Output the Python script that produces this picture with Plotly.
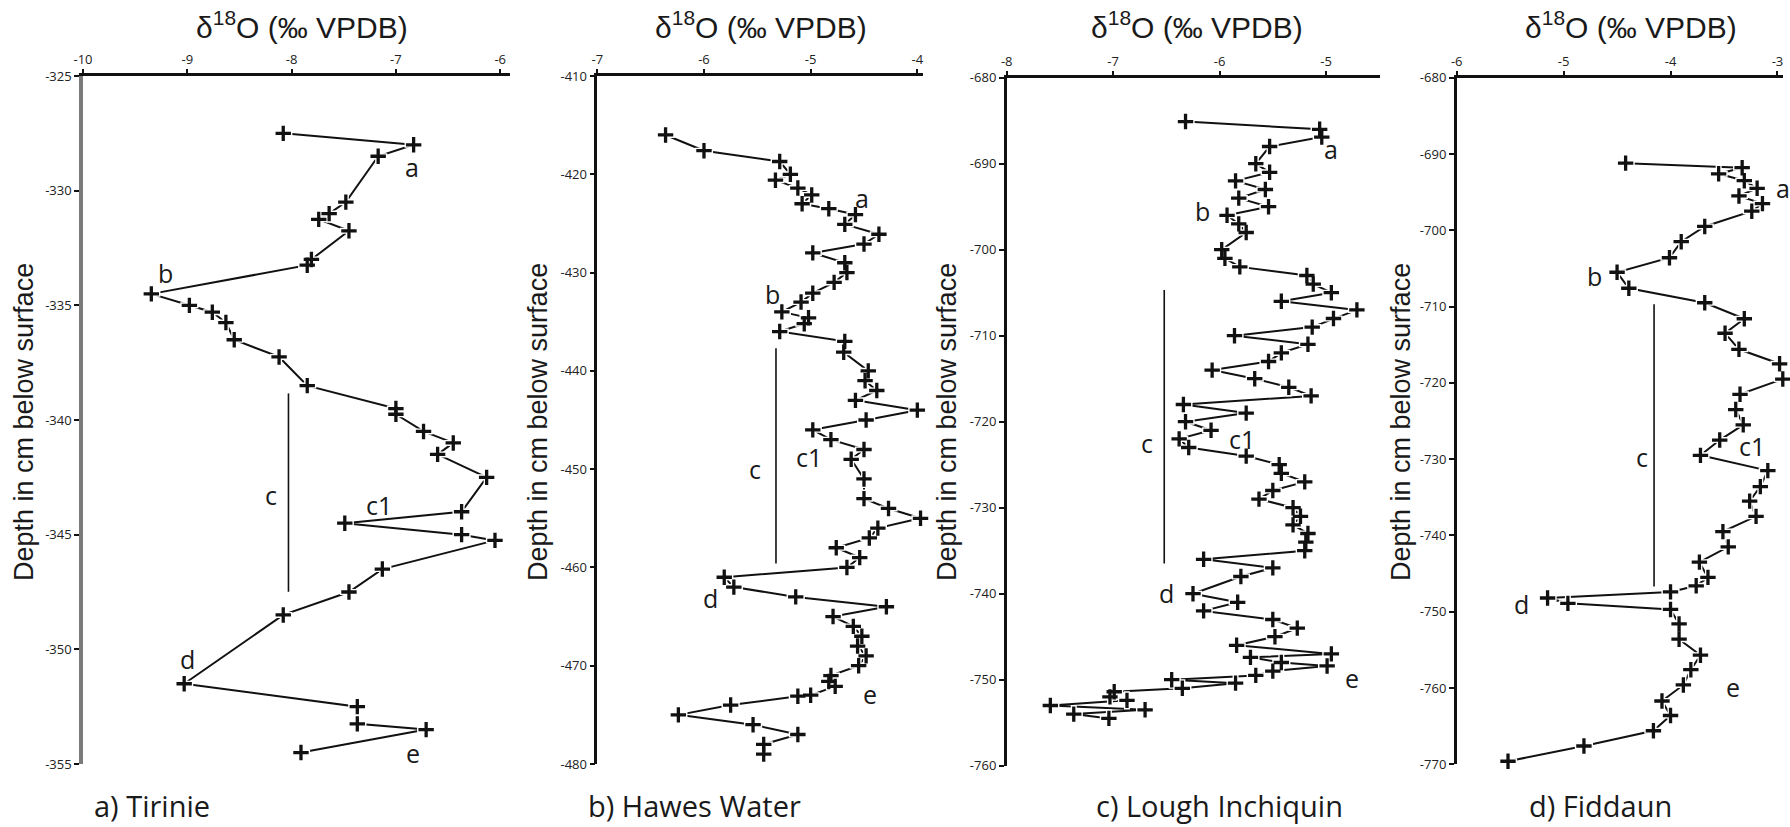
import plotly.graph_objects as go

# ---------------- data ----------------
# a) Tirinie
X_A = [-8.08, -6.83, -7.17, -7.48, -7.64, -7.74, -7.45, -7.81, -7.85, -9.345, -8.98, -8.76,
       -8.63, -8.55, -8.12, -7.85, -7.0, -7.0, -6.735, -6.45, -6.60, -6.13, -6.37, -7.49,
       -6.37, -6.05, -7.13, -7.45, -8.08, -9.03, -7.37, -7.37, -6.71, -7.91]
Y_A = [-327.5, -328.0, -328.5, -330.5, -331.0, -331.25, -331.75, -333.0, -333.25, -334.5,
       -335.0, -335.3, -335.75, -336.5, -337.25, -338.5, -339.5, -339.75, -340.5, -341.0,
       -341.5, -342.5, -344.0, -344.5, -345.0, -345.25, -346.5, -347.5, -348.5, -351.5,
       -352.5, -353.25, -353.5, -354.5]
# b) Hawes Water
X_B = [-6.36, -6.0, -5.29, -5.19, -5.33, -5.12, -4.99, -5.08, -4.83, -4.58, -4.68, -4.36,
       -4.5, -4.98, -4.68, -4.66, -4.78, -4.98, -5.09, -5.27, -5.02, -5.06, -5.29, -4.68,
       -4.69, -4.46, -4.49, -4.38, -4.58, -4.0, -4.48, -4.98, -4.81, -4.5, -4.62, -4.5,
       -4.5, -4.27, -3.97, -4.37, -4.45, -4.76, -4.54, -4.66, -5.81, -5.72, -5.14, -4.29,
       -4.79, -4.6, -4.52, -4.56, -4.48, -4.55, -4.81, -4.83, -4.77, -5.0, -5.12, -5.75,
       -6.24, -5.54, -5.12, -5.44, -5.44]
Y_B = [-416, -417.6, -418.7, -420, -420.6, -421.4, -422.1, -423, -423.5, -424.1, -425.1,
       -426.1, -427.1, -428, -429, -430, -431, -432.1, -433, -434, -434.6, -435.2, -436,
       -437, -438.1, -440, -441, -442, -443, -444, -445, -446, -447, -448, -449, -451,
       -453, -454, -455, -456, -457, -458, -459, -460, -461, -462, -463, -464, -465, -466,
       -467, -468, -469, -470, -471, -471.6, -472.1, -473, -473.1, -474, -475, -476, -477,
       -478, -479]
# c) Lough Inchiquin
X_C = [-6.32, -5.06, -5.04, -5.53, -5.66, -5.53, -5.85, -5.57, -5.82, -5.54,
       -5.93, -5.82, -5.75, -5.98, -5.95, -5.81, -5.18, -5.12, -4.95, -5.42,
       -4.71, -4.93, -5.13, -5.86, -5.17, -5.42, -5.54, -6.07, -5.67, -5.35,
       -5.14, -6.34, -5.75, -6.32, -6.08, -6.38, -6.29, -5.75, -5.44, -5.42,
       -5.2, -5.5, -5.63, -5.31, -5.24, -5.31, -5.17, -5.19, -5.2, -6.15,
       -5.5, -5.8, -6.25, -5.83, -6.15, -5.5, -5.27, -5.48, -5.84, -4.95,
       -5.71, -5.42, -4.99, -5.5, -5.66, -6.45, -5.85, -6.35, -6.99, -7.03,
       -6.87, -7.59, -6.70, -7.37, -7.04]
Y_C = [-685.1, -686.0, -686.9, -688, -690, -691, -692, -693, -694, -695,
       -696, -697, -698, -700, -701, -702, -703, -704, -705, -706,
       -707, -708, -709, -710, -711, -712, -713, -714, -715, -716,
       -717, -718, -719, -720, -721, -722, -723, -724, -725, -726,
       -727, -728, -729, -730, -731, -732, -733, -734, -735, -736,
       -737, -738, -740, -741, -742, -743, -744, -745, -746, -747,
       -747.4, -748, -748.4, -749, -749.5, -750, -750.4, -751, -751.4, -752,
       -752.4, -753, -753.5, -754, -754.5]
# d) Fiddaun
X_D = [-4.42, -3.33, -3.55, -3.31, -3.19, -3.36, -3.14, -3.24, -3.68, -3.9,
       -4.01, -4.5, -4.39, -3.68, -3.31, -3.49, -3.36, -2.98, -2.95, -3.35,
       -3.39, -3.32, -3.54, -3.72, -3.09, -3.16, -3.26, -3.2, -3.51, -3.46,
       -3.73, -3.65, -3.76, -4.0, -5.15, -4.96, -4.0, -3.92, -3.92, -3.72,
       -3.81, -3.88, -4.08, -4.0, -4.16, -4.81, -5.52]
Y_D = [-691.2, -691.8, -692.6, -693.5, -694.5, -695.5, -696.5, -697.5, -699.5, -701.5,
       -703.6, -705.5, -707.6, -709.5, -711.6, -713.5, -715.6, -717.5, -719.5, -721.5,
       -723.5, -725.5, -727.5, -729.5, -731.5, -733.6, -735.5, -737.5, -739.5, -741.5,
       -743.5, -745.5, -746.6, -747.4, -748.2, -748.9, -749.7, -751.6, -753.6, -755.7,
       -757.6, -759.6, -761.7, -763.6, -765.6, -767.6, -769.6]

# zone "c" bars (x, [top, bottom])
CBAR_A = (-8.03, [-338.84, -347.49])
CBAR_B = (-5.325, [-437.7, -459.6])
CBAR_C = (-6.52, [-704.7, -736.5])
CBAR_D = (-4.154, [-709.7, -746.7])

# zone labels
LABEL_TEXT = ["a", "b", "c", "c1", "d", "e"]
LAB_A = [(-6.85, -328.95), (-9.21, -333.6), (-8.2, -343.27), (-7.16, -343.7), (-9.0, -350.4), (-6.84, -354.5)]
LAB_B = [(-4.52, -422.45), (-5.36, -432.2), (-5.52, -449.97), (-5.02, -448.8), (-5.94, -463.1), (-4.44, -472.87)]
LAB_C = [(-4.95, -688.3), (-6.16, -695.5), (-6.68, -722.5), (-5.79, -722.05), (-6.5, -739.96), (-4.76, -749.84)]
LAB_D = [(-2.95, -694.5), (-4.715, -706.0), (-4.27, -729.74), (-3.24, -728.25), (-5.39, -748.98), (-3.42, -759.9)]

# axis ticks
XT_A = [-10, -9, -8, -7, -6]
YT_A = [-325, -330, -335, -340, -345, -350, -355]
XT_B = [-7, -6, -5, -4]
YT_B = [-410, -420, -430, -440, -450, -460, -470, -480]
XT_C = [-8, -7, -6, -5]
YT_C = [-680, -690, -700, -710, -720, -730, -740, -750, -760]
XT_D = [-6, -5, -4, -3]
YT_D = [-680, -690, -700, -710, -720, -730, -740, -750, -760, -770]

TITLES = ["a) Tirinie", "b) Hawes Water", "c) Lough Inchiquin", "d) Fiddaun"]

# ---------------- layout geometry (pixels) ----------------
W, H = 1790, 827
panels = [
    dict(x=X_A, y=Y_A, cbar=CBAR_A, lab=LAB_A, xt=XT_A, yt=YT_A,
         px=(83, 510), py=(76, 764), xr=[-10, -5.906], yr=[-355, -325],
         xtitle=302, ytitle=24, ttl=152, ylc='#7a7a7a', ylw=3.5),
    dict(x=X_B, y=Y_B, cbar=CBAR_B, lab=LAB_B, xt=XT_B, yt=YT_B,
         px=(597.3, 923.3), py=(76, 764), xr=[-7, -3.944], yr=[-480, -410],
         xtitle=761, ytitle=538, ttl=694, ylc='#111', ylw=2.5),
    dict(x=X_C, y=Y_C, cbar=CBAR_C, lab=LAB_C, xt=XT_C, yt=YT_C,
         px=(1006.7, 1380), py=(77.7, 765.7), xr=[-8, -4.493], yr=[-760, -680],
         xtitle=1197, ytitle=947, ttl=1219, ylc='#111', ylw=2.5),
    dict(x=X_D, y=Y_D, cbar=CBAR_D, lab=LAB_D, xt=XT_D, yt=YT_D,
         px=(1456.7, 1783), py=(77.7, 764.3), xr=[-6, -2.948], yr=[-770, -680],
         xtitle=1631, ytitle=1401, ttl=1600, ylc='#111', ylw=2.5),
]

fig = go.Figure()
annotations = []
layout = {}
tickfont = dict(family="Open Sans", size=13, color="#222")
labfont = dict(family="Open Sans", size=25, color="#1a1a1a")

for i, p in enumerate(panels):
    n = "" if i == 0 else str(i + 1)
    xa, ya = "x" + n, "y" + n
    # connecting line
    fig.add_trace(go.Scatter(
        x=p["x"], y=p["y"], xaxis=xa, yaxis=ya, mode="lines",
        line=dict(color="#111", width=2),
        cliponaxis=False, showlegend=False, hoverinfo="skip"))
    # white halo behind markers (as in the original Excel markers)
    fig.add_trace(go.Scatter(
        x=p["x"], y=p["y"], xaxis=xa, yaxis=ya, mode="markers",
        marker=dict(symbol="cross-thin", size=13, line=dict(color="white", width=6)),
        cliponaxis=False, showlegend=False, hoverinfo="skip"))
    # plus markers
    fig.add_trace(go.Scatter(
        x=p["x"], y=p["y"], xaxis=xa, yaxis=ya, mode="markers",
        marker=dict(symbol="cross-thin", size=11, line=dict(color="#111", width=3.3)),
        cliponaxis=False, showlegend=False, hoverinfo="x+y"))
    cx, cy = p["cbar"]
    fig.add_trace(go.Scatter(
        x=[cx, cx], y=cy, xaxis=xa, yaxis=ya, mode="lines",
        line=dict(color="#111", width=1.6), showlegend=False, hoverinfo="skip"))

    layout["xaxis" + n] = dict(
        domain=[p["px"][0] / W, p["px"][1] / W], range=p["xr"], anchor=ya, side="top",
        showline=True, linecolor="#111", linewidth=2.5, mirror=False, automargin=False,
        ticks="outside", ticklen=4, tickwidth=2, tickcolor="#111",
        tickvals=p["xt"], ticktext=[str(v) for v in p["xt"]], tickfont=tickfont,
        showgrid=False, zeroline=False, fixedrange=True)
    layout["yaxis" + n] = dict(
        domain=[1 - p["py"][1] / H, 1 - p["py"][0] / H], range=p["yr"], anchor=xa,
        showline=True, linecolor=p["ylc"], linewidth=p["ylw"], automargin=False,
        ticks="outside", ticklen=5, tickwidth=2, tickcolor="#111",
        tickvals=p["yt"], ticktext=[str(v) for v in p["yt"]], tickfont=tickfont,
        showgrid=False, zeroline=False, fixedrange=True)

    for t, (lx, ly) in zip(LABEL_TEXT, p["lab"]):
        annotations.append(dict(x=lx, y=ly, xref=xa, yref=ya, text=t, showarrow=False,
                                font=labfont, xanchor="center", yanchor="middle"))
    # top axis title
    annotations.append(dict(x=p["xtitle"] / W, y=1 - 25 / H, xref="paper", yref="paper",
                            text="δ<sup>18</sup>O (‰ VPDB)", showarrow=False,
                            font=dict(family="Liberation Sans", size=30, color="#1a1a1a"),
                            xanchor="center", yanchor="middle"))
    # y axis title
    annotations.append(dict(x=p["ytitle"] / W, y=1 - 422 / H, xref="paper", yref="paper",
                            text="Depth in cm below surface", showarrow=False, textangle=-90,
                            font=dict(family="Liberation Sans", size=27, color="#1a1a1a"),
                            xanchor="center", yanchor="middle"))
    # panel title
    annotations.append(dict(x=p["ttl"] / W, y=1 - 805 / H, xref="paper", yref="paper",
                            text=TITLES[i], showarrow=False,
                            font=dict(family="Open Sans", size=29, color="#1a1a1a"),
                            xanchor="center", yanchor="middle"))

fig.update_layout(
    width=W, height=H, autosize=False,
    margin=dict(l=0, r=0, t=0, b=0, autoexpand=False),
    paper_bgcolor="white", plot_bgcolor="white",
    annotations=annotations, showlegend=False, **layout)

fig.write_html("out.html", include_plotlyjs=True, config={"displayModeBar": False},
               post_script="document.body.style.margin='0';document.body.style.overflow='hidden';")
